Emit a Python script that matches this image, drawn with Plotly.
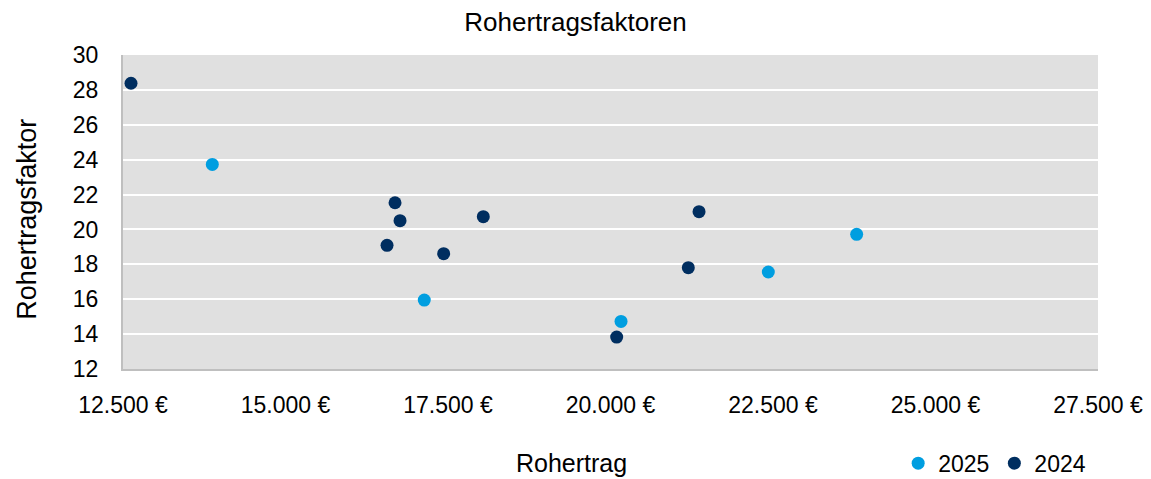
import plotly.graph_objects as go

# Rohertrag (EUR) und Rohertragsfaktor je Jahr
x_2025 = [13874, 17135, 20162, 22428, 23787]
y_2025 = [23.73, 15.95, 14.73, 17.56, 19.72]

x_2024 = [12623, 16685, 16762, 16562, 17433, 18043, 21362, 21197, 20095]
y_2024 = [28.38, 21.53, 20.50, 19.09, 18.61, 20.73, 21.02, 17.81, 13.83]

x_ticks = [12500, 15000, 17500, 20000, 22500, 25000, 27500]
x_labels = ['12.500 €', '15.000 €', '17.500 €', '20.000 €', '22.500 €', '25.000 €', '27.500 €']
y_ticks = [12, 14, 16, 18, 20, 22, 24, 26, 28, 30]

FONT = 'Liberation Sans, Arial, sans-serif'

fig = go.Figure()
fig.add_trace(go.Scatter(x=x_2025, y=y_2025, mode='markers', name='2025',
                         marker=dict(color='#009EE0', size=13)))
fig.add_trace(go.Scatter(x=x_2024, y=y_2024, mode='markers', name='2024',
                         marker=dict(color='#002E60', size=13)))

fig.update_layout(
    width=1151, height=479,
    margin=dict(l=123, r=53, t=55, b=110, autoexpand=False),
    paper_bgcolor='white',
    plot_bgcolor='#E0E0E0',
    font=dict(family=FONT, size=23, color='black'),
    title=dict(text='Rohertragsfaktoren', x=0.5, xref='container', xanchor='center',
               y=1 - 22 / 479, yanchor='middle', font=dict(size=26, color='black')),
    legend=dict(orientation='h', x=0.993, xanchor='right', y=-0.300, yanchor='middle',
                font=dict(size=23), itemsizing='trace', bgcolor='rgba(0,0,0,0)'),
    showlegend=True,
)

fig.update_xaxes(
    range=[12500, 27500], tickvals=x_ticks, ticktext=x_labels,
    showgrid=False, zeroline=False,
    showline=True, linecolor='#BFBFBF', linewidth=2,
    ticks='outside', ticklen=14, tickcolor='rgba(0,0,0,0)',
)
fig.update_yaxes(
    range=[12, 30], tickvals=y_ticks,
    showgrid=True, gridcolor='white', gridwidth=2, zeroline=False,
    showline=True, linecolor='#BFBFBF', linewidth=2,
    ticks='outside', ticklen=18, tickcolor='rgba(0,0,0,0)',
)

fig.add_annotation(text='Rohertrag', xref='paper', yref='paper',
                   x=0.4605, y=-0.298, xanchor='center', yanchor='middle',
                   showarrow=False, font=dict(size=25))
fig.add_annotation(text='Rohertragsfaktor', xref='paper', yref='paper',
                   x=-0.0985, y=0.478, xanchor='center', yanchor='middle',
                   textangle=-90, showarrow=False, font=dict(size=27))

fig.write_html('out.html', config={'displayModeBar': False},
               post_script="document.body.style.margin='0';")
